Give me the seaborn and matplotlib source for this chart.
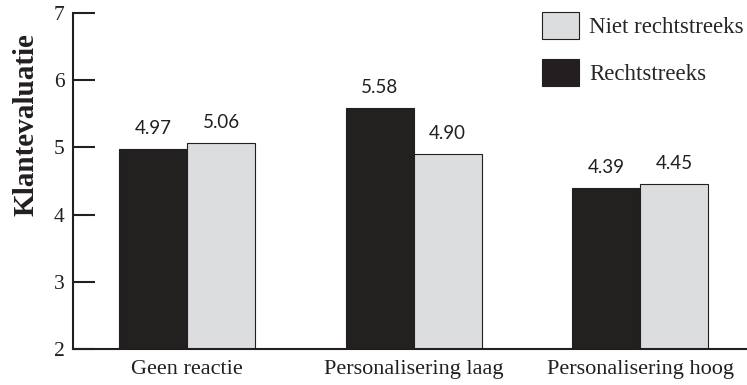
import matplotlib
matplotlib.use("Agg")
import matplotlib.pyplot as plt
from matplotlib.patches import Patch
import seaborn as sns
import pandas as pd

categories = ["Geen reactie", "Personalisering laag", "Personalisering hoog"]
series_names = ["Rechtstreeks", "Niet rechtstreeks"]
rechtstreeks = [4.97, 5.58, 4.39]
niet_rechtstreeks = [5.06, 4.90, 4.45]
y_ticks = [2, 3, 4, 5, 6, 7]

colors = {"Rechtstreeks": "#231f20", "Niet rechtstreeks": "#dcdddf"}

rows = []
for cat, a, b in zip(categories, rechtstreeks, niet_rechtstreeks):
    rows.append({"categorie": cat, "groep": series_names[0], "waarde": a})
    rows.append({"categorie": cat, "groep": series_names[1], "waarde": b})
df = pd.DataFrame(rows)

sns.set_style("white")
plt.rcParams["font.family"] = ["Liberation Serif", "DejaVu Serif"]

fig = plt.figure(figsize=(7.47, 3.85), dpi=100)
ax = fig.add_axes([73 / 747, 36 / 385, 1 - 73 / 747, 336 / 385])

sns.barplot(data=df, x="categorie", y="waarde", hue="groep",
            hue_order=series_names, palette=colors, width=0.6,
            edgecolor="#231f20", linewidth=0.8, legend=False, ax=ax)

for cont in ax.containers:
    ax.bar_label(cont, fmt="%.2f", padding=9, fontsize=13.5,
                 family=["Lato", "DejaVu Sans"], color="#231f20")

ax.set_ylim(2, 7)
ax.set_xlim(-0.503, 2.47)
ax.set_yticks(y_ticks)
ax.set_yticklabels([str(t) for t in y_ticks], fontsize=15.5, color="#231f20")
ax.tick_params(axis="y", direction="in", length=16, width=1.5, colors="#231f20",
               left=True, pad=6, labelcolor="#231f20")
ax.tick_params(axis="x", length=0, pad=8, labelsize=16, labelcolor="#231f20")
ax.set_xlabel("")
ax.set_ylabel("Klantevaluatie", fontsize=21, fontweight="bold", color="#231f20")
# label sits higher than the axis centre in the original
ax.yaxis.set_label_coords(-0.05, 0.667)

for side in ["top", "right"]:
    ax.spines[side].set_visible(False)
for side in ["left", "bottom"]:
    ax.spines[side].set_color("#231f20")
    ax.spines[side].set_linewidth(1.5)

legend_names = ["Niet rechtstreeks", "Rechtstreeks"]
handles = [Patch(facecolor=colors[n], edgecolor="#231f20", linewidth=0.8)
           for n in legend_names]
ax.legend(handles, legend_names, loc="upper left",
          bbox_to_anchor=(542 / 747, 373 / 385), bbox_transform=fig.transFigure,
          frameon=False, fontsize=16.5, handlelength=1.6, handleheight=1.45,
          labelspacing=0.85, handletextpad=0.45, borderaxespad=0, borderpad=0)

fig.savefig("out.png", dpi=100)
